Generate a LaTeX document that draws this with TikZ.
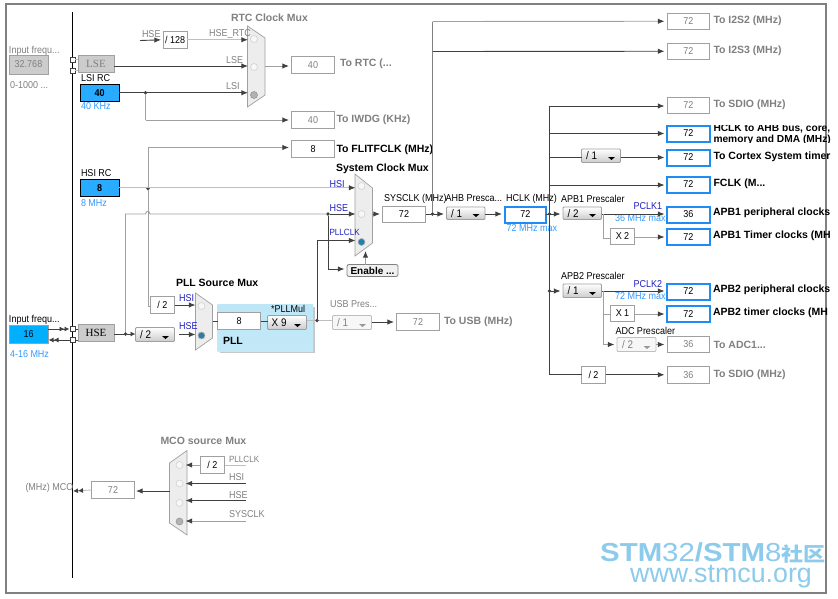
\documentclass[tikz,border=0pt]{standalone}
\usepackage{fontspec}
\usepackage{graphicx}
\setmainfont{Liberation Sans}[FakeStretch=0.9]
\newfontfamily\lsf{Liberation Sans}
\newfontfamily\lserif{Liberation Serif}
\newfontfamily\cjkf{Noto Sans CJK SC}
\usetikzlibrary{arrows.meta}
\definecolor{dk}{HTML}{404040}
\definecolor{mg}{HTML}{A0A0A0}
\definecolor{lb}{HTML}{3399FF}
\definecolor{pb}{HTML}{2020C0}
\definecolor{ac}{HTML}{1E8CF0}
\definecolor{wm}{HTML}{8CCBEC}
\definecolor{gtxt}{HTML}{808080}
\definecolor{srcf}{HTML}{29ABFF}
\definecolor{oscf}{HTML}{00B0FF}
\definecolor{pla}{HTML}{BDE6F6}
\definecolor{plb}{HTML}{EAF7FC}
\definecolor{plc}{HTML}{C3E9F9}
\definecolor{radb}{HTML}{2080B0}
\newcommand\bx[7]{\node[#2,minimum width={(#5-#3)*1pt},minimum height={(#6-#4)*1pt}] (#1) at ({(#3+#5)/2},{(#4+#6)/2}) {#7};}
\newcommand\lbl[5]{\node[anchor=west,inner sep=0,outer sep=0,font=\fontsize{10}{10}\selectfont,#2] (#1) at (#3,#4) {#5};}
\newcommand\ddtext[6]{\node[#2,minimum width={(#5-#3)*1pt},minimum height={(#6-#4)*1pt}] (#1) at ({(#3+#5)/2},{(#4+#6)/2}) {};}
\newcommand\ddarrow[3]{\fill[#3] ({#1-12.5},{#2-5.5}) -- ({#1-5.5},{#2-5.5}) -- ({#1-9},{#2-2.5}) -- cycle;}
\tikzset{
  bare/.style={rectangle,inner sep=0,outer sep=0},
  val/.style={bare,draw=mg,line width=.8pt,fill=white,text=black,font=\fontsize{10}{10}\selectfont},
  dis/.style={val,text=gtxt},
  act/.style={val,draw=ac,line width=2pt},
  src/.style={val,draw=black,line width=1pt,fill=srcf,font=\fontsize{10}{10}\bfseries\selectfont},
  gbox/.style={bare,draw=mg,line width=.8pt,fill=black!20,font=\fontsize{11}{11}\lserif\selectfont},
  ddb/.style={bare,draw=mg,line width=.8pt,rounded corners=1pt,top color=white,bottom color=black!20},
  ddd/.style={bare,draw=black!25,line width=.8pt,rounded corners=1pt,fill=black!3},
  muxs/.style={draw=mg,line width=.7pt,left color=black!7,middle color=white,right color=black!7},
  rad/.style={circle,inner sep=0,outer sep=0,minimum size=7pt,draw=black!18,fill=black!3,line width=.6pt},
  radon/.style={rad,draw=black!30,fill=radb},
  radoff/.style={rad,draw=black!40,fill=black!30},
  jd/.style={circle,inner sep=0,outer sep=0,minimum size=3.6pt,fill=dk},
  sq/.style={rectangle,inner sep=0,outer sep=0,minimum size=5pt,draw=dk,fill=white,line width=.6pt},
  blk/.style={draw=dk,line width=.9pt},
  gry/.style={draw=mg,line width=.9pt},
  lgt/.style={draw=black!25,line width=.9pt},
  arr/.style={-{Latex[length=6.6pt,width=5.4pt,color=dk]},shorten >=2.5pt},
  t/.style={text=black},
  tg/.style={text=gtxt},
  tb/.style={text=pb,font=\fontsize{10}{10}\selectfont},
  tl/.style={text=lb,font=\fontsize{10}{10}\selectfont},
  hd/.style={text=black,font=\fontsize{10.5}{10.5}\lsf\bfseries\selectfont},
  hg/.style={text=gtxt,font=\fontsize{10.5}{10.5}\lsf\bfseries\selectfont},
}
\begin{document}
\begin{tikzpicture}[x=1pt,y=-1pt]
\useasboundingbox (0,0) rectangle (838,598);
\fill[white] (0,0) rectangle (838,598);
\begin{scope}
\clip (0,0) rectangle (830.5,598);
\draw[draw=black!50,line width=2pt] (5.5,3.5) rectangle (826,593);
\draw[black,line width=1pt] (72.5,12) -- (72.5,578);

% --- PLL panel
\fill[black!22] (220,307) rectangle (314.5,352.5);
\path[top color=pla,middle color=plb,bottom color=plc] (217.5,304) rectangle (313,351);

% --- left column
\lbl{t1}{tg}{9}{51}{Input frequ...}
\bx{lsebx}{dis,fill=black!20}{9}{55}{48}{74}{32.768}
\lbl{t2}{tg}{10}{85}{0-1000 ...}
\bx{lse}{gbox,text=gtxt}{78}{55}{114}{72}{LSE}
\node[sq] (s1) at (72.5,59.5) {};
\node[sq] (s2) at (72.5,70.5) {};
\lbl{t3}{t}{81}{78.5}{LSI RC}
\bx{lsi}{src}{80.5}{84.5}{119}{101}{40}
\lbl{t4}{tl}{81}{106.5}{40 KHz}
\lbl{t5}{t}{81}{173.5}{HSI RC}
\bx{hsi}{src}{80.5}{179.5}{119}{196}{8}
\lbl{t6}{tl}{81}{203.5}{8 MHz}
\lbl{t7}{t}{9}{320}{Input frequ...}
\bx{osc}{val,fill=oscf,draw=mg}{9.5}{325}{48}{343}{16}
\lbl{t8}{tl}{10}{354.5}{4-16 MHz}
\bx{hse}{gbox,text=black}{78}{324.5}{114}{341.5}{HSE}
\node[sq] (s3) at (72.5,329) {};
\node[sq] (s4) at (72.5,340) {};

% --- RTC
\lbl{t9}{hg}{231}{17.5}{RTC Clock Mux}
\lbl{t10}{tg}{142}{34}{HSE}
\bx{d128}{val}{163.5}{31.5}{187}{48}{/ 128}
\lbl{t12}{tg}{226}{60.5}{LSE}
\lbl{t13}{tg}{226}{86}{LSI}
\draw[muxs] (247.5,26) -- (265,38) -- (265,95) -- (247.5,107) -- cycle;
\lbl{t11}{tg}{209}{34}{HSE\_RTC}
\node[rad] (rtcA) at (254,39) {};
\node[rad] (rtcB) at (254,67) {};
\node[radoff] (rtcC) at (254,95) {};
\bx{brtc}{dis}{291.5}{56.5}{334.5}{73.5}{40}
\lbl{t14}{hg}{340}{63.5}{To RTC (...}
\bx{biw}{dis}{291.5}{111.5}{334.5}{128.5}{40}
\lbl{t15}{hg}{336.5}{119.5}{To IWDG (KHz)}
\bx{bfl}{val}{291.5}{140.5}{334.5}{157.5}{8}
\lbl{t16}{hd}{336.5}{149.5}{To FLITFCLK (MHz)}
\coordinate (hse0) at (140,40.5);
\draw[blk,arr] (hse0) -- (d128.west);
\draw[lgt,arr] (d128.east) -- (rtcA.west |- d128.east);
\draw[blk,arr] (lse.east |- 0,66) -- (rtcB.west |- 0,66);
\draw[blk,arr] (lsi.east) -- (rtcC.west |- lsi.east);
\node[jd] (j1) at (145.5,92.7) {};
\draw[gry] (j1) -- (145.5,120);
\draw[gry,arr] (145.5,120) -- (biw.west |- 0,120);
\draw[gry,arr] (265,66) -- (brtc.west |- 0,66);

% --- system clock mux
\lbl{t17}{hd}{336}{169}{System Clock Mux}
\draw[muxs] (355,174) -- (372.5,188) -- (372.5,243) -- (355,256) -- cycle;
\lbl{t18}{tb}{329.5}{184}{HSI}
\lbl{t19}{tb}{329.5}{208.5}{HSE}
\lbl{t20}{tb}{329.5}{232.5}{\fontsize{9}{9}\selectfont PLLCLK}
\node[rad] (sysA) at (361.5,186) {};
\node[rad] (sysB) at (361.5,214) {};
\node[radon] (sysC) at (361.5,242) {};
\bx{en}{val,rounded corners=2pt,draw=gtxt,fill=black!6,font=\fontsize{10}{10}\lsf\bfseries\selectfont}{347}{264.5}{398}{276.5}{Enable ...}
\node[jd] (j2) at (148,188.5) {};
\draw[lgt,arr] (hsi.east) -- (sysA.west |- hsi.east);
\draw[gry] (j2) -- (148,147.5);
\draw[gry,arr] (148,147.5) -- (bfl.west |- 0,147.5);
\coordinate (hsehop) at (125.5,214);
\node[jd] (j3) at (328,214) {};
\node[jd] (j4) at (125.5,334) {};
\draw[gry] (j4) -- (hsehop) -- (145.5,214) .. controls (146,210.5) and (149.5,210.5) .. (150,214) -- (j3);
\draw[blk,arr] (j3) -- (sysB.west);
\bx{d2a}{val}{150.5}{296.5}{174.5}{313.5}{/ 2}
\draw[gry] (j2) -- (148,306.5) -- (d2a.west |- 0,306.5);

% --- PLL
\lbl{t21}{hd}{176}{282.5}{PLL Source Mux}
\draw[muxs] (195.5,293) -- (212.5,305) -- (212.5,338) -- (195.5,350) -- cycle;
\lbl{t22}{tb}{179}{298.5}{HSI}
\lbl{t23}{tb}{179}{326.5}{HSE}
\node[rad] (pA) at (201.5,306) {};
\node[radon] (pB) at (201.5,335.5) {};
\ddtext{d2b}{ddb}{135.5}{327.5}{174.5}{341.5}
\node[anchor=west,inner sep=0,font=\fontsize{11}{11}\selectfont] (d2bt) at (140,334.5) {/ 2};
\ddarrow{174.5}{341.5}{black}
\coordinate (lpb) at (179,334.5);
\draw[blk] (hse.east |- j4) -- (j4);
\draw[blk,-{Latex[length=5pt,width=5pt,color=dk]}] (j4) -- (d2b.west |- j4);
\draw[blk,arr] (lpb) -- (pB.west |- lpb);
\draw[blk,arr] (d2a.east) -- (pA.west |- d2a.east);
\lbl{t24}{t}{271}{308.5}{*PLLMul}
\bx{pl8}{val}{217.5}{312.5}{260.5}{329.5}{8}
\ddtext{plx}{ddb}{267.5}{315.5}{306.5}{329.5}
\node[anchor=west,inner sep=0,font=\fontsize{11}{11}\selectfont] (plxt) at (271.5,322.5) {X 9};
\ddarrow{306.5}{329.5}{black}
\lbl{t25}{hd}{223}{340.5}{PLL}
\draw[blk] (212.5,321) -- (pl8.west |- 0,321);
\draw[blk] (pl8.east |- 0,321) -- (plx.west |- 0,321);
\node[jd] (j5) at (317,320.5) {};
\draw[lgt] (plx.east |- j5) -- (j5);
\coordinate (pbend) at (317,240.5);
\draw[blk] (j5) -- (pbend);
\draw[blk,arr] (pbend) -- (sysC.west |- pbend);
\draw[blk] (j3) -- (328,269);
\draw[blk,arr] (328,269) -- (en.west |- 0,269);
\draw[gry,arr] (en.north -| 365.5,0) -- (365.5,248.5);

% --- USB
\lbl{t26}{tg}{330}{304.5}{USB Pres...}
\ddtext{usbd}{ddd}{332.5}{315.5}{371.5}{329.5}
\node[anchor=west,inner sep=0,font=\fontsize{11}{11}\selectfont,text=gtxt] (usbt) at (337,322.5) {/ 1};
\ddarrow{371.5}{329.5}{black!40}
\bx{usb}{dis}{396.5}{313.5}{439.5}{330.5}{72}
\lbl{t27}{hg}{444}{322}{To USB (MHz)}
\draw[lgt] (j5) -- (usbd.west |- j5);
\draw[blk,arr] (usbd.east |- usb.west) -- (usb.west);

% --- left arrows
\draw[blk,-{Latex[length=5pt,width=5pt,color=dk]Latex[length=5pt,width=5pt,color=dk]},shorten >=.5pt] (osc.east |- s3) -- (s3.west);
\draw[blk,-{Latex[length=5pt,width=5pt,color=dk]Latex[length=5pt,width=5pt,color=dk]},shorten >=.5pt] (s4.west) -- (osc.east |- s4);
\draw[blk] (s3.east) -- (hse.west |- s3);
\draw[blk] (s4.east) -- (hse.west |- s4);
\draw[lgt] (s1.east) -- (lse.west |- s1);
\draw[lgt] (s2.east) -- (lse.west |- s2);

% --- SYSCLK / AHB / HCLK
\lbl{t28}{t}{384}{198.5}{SYSCLK (MHz)}
\bx{sys}{val}{382.5}{206.5}{425.5}{222.5}{72}
\lbl{t29}{t}{445.5}{198.5}{AHB Presca...}
\ddtext{ahb}{ddb}{446.5}{207}{485}{219.5}
\node[anchor=west,inner sep=0,font=\fontsize{11}{11}\selectfont] (ahbt) at (451,213.5) {/ 1};
\ddarrow{485}{219.5}{black}
\lbl{t30}{t}{506}{198.5}{HCLK (MHz)}
\bx{hclk}{act}{504.5}{206.5}{546}{222.5}{72}
\lbl{t31}{tl}{506.5}{228}{72 MHz max}
\draw[blk,arr] (372.5,214) -- (sys.west |- 0,214);
\node[jd] (j6) at (432.5,214) {};
\draw[blk] (sys.east |- j6) -- (j6);
\draw[blk,arr] (j6) -- (ahb.west |- j6);
\draw[blk,arr] (ahb.east |- 0,214) -- (hclk.west |- 0,214);

% --- I2S
\bx{i2}{dis}{667}{13}{709.5}{29.5}{72}
\lbl{t32}{hg}{713.5}{20.5}{To I2S2 (MHz)}
\bx{i3}{dis}{667}{43}{709.5}{59.5}{72}
\lbl{t33}{hg}{713.5}{50.5}{To I2S3 (MHz)}
\draw[gry,arr] (432.5,21.5) -- (i2.west);
\draw[blk,arr] (432.5,51.5) -- (i3.west);
\draw[draw=gtxt,line width=.9pt] (j6) -- (432.5,21.5);

% --- HCLK tree
\bx{sd}{dis}{667}{97}{709.5}{113.5}{72}
\lbl{t34}{hg}{713.5}{104.5}{To SDIO (MHz)}
\bx{ah}{act}{667}{125.5}{709.5}{141.5}{72}
\begin{scope}
\clip (711,125) rectangle (832,142);
\lbl{t35}{text=black,font=\fontsize{10.2}{10.2}\lsf\bfseries\selectfont}{713.5}{128.5}{HCLK to AHB bus, core,}
\lbl{t36}{text=black,font=\fontsize{10.2}{10.2}\lsf\bfseries\selectfont}{713.5}{139.5}{memory and DMA (MHz)}
\end{scope}
\bx{cx}{act}{667}{149.5}{709.5}{165.5}{72}
\lbl{t37}{hd}{713.5}{156.5}{To Cortex System timer}
\bx{fc}{act}{667}{176.5}{709.5}{192.5}{72}
\lbl{t38}{hd}{713.5}{183.5}{FCLK (M...}
\ddtext{cxd}{ddb}{581.5}{149}{620.5}{162.5}
\node[anchor=west,inner sep=0,font=\fontsize{11}{11}\selectfont] (cxdt) at (586,156) {/ 1};
\ddarrow{620.5}{162.5}{black}
\coordinate (bt) at (549.5,106);
\coordinate (bb) at (549.5,374.5);
\draw[blk] (bt) -- (bb);
\draw[blk,arr] (bt) -- (sd.west |- bt);
\draw[blk,arr] (549.5,133.5) -- (ah.west |- 0,133.5);
\draw[blk] (549.5,157.5) -- (cxd.west |- 0,157.5);
\draw[blk,arr] (cxd.east |- cx.west) -- (cx.west);
\draw[blk,arr] (549.5,185) -- (fc.west |- 0,185);

% --- APB1
\lbl{t39}{t}{561}{198.5}{APB1 Prescaler}
\ddtext{ap1}{ddb}{563}{207}{601.5}{219.5}
\node[anchor=west,inner sep=0,font=\fontsize{11}{11}\selectfont] (ap1t) at (567.5,213.5) {/ 2};
\ddarrow{601.5}{219.5}{black}
\lbl{t40}{tb}{633.5}{206}{PCLK1}
\lbl{t41}{tl}{615}{218}{36 MHz max}
\bx{p1}{act}{667}{206.5}{709.5}{222.5}{36}
\lbl{t42}{hd}{713}{212.5}{APB1 peripheral clocks}
\bx{x2}{val}{610.5}{228.5}{634.5}{244.5}{X 2}
\bx{t1b}{act}{667}{229}{709.5}{245}{72}
\lbl{t43}{hd}{713}{236}{APB1 Timer clocks (MH}
\node[jd] (j7) at (549.5,214) {};
\draw[blk,arr] (hclk.east |- j7) -- (ap1.west |- j7);
\draw[blk,arr] (ap1.east |- 0,214) -- (p1.west |- 0,214);
\draw[gry] (603.5,214) -- (603.5,238) -- (x2.west |- 0,238);
\draw[gry,arr] (x2.east |- t1b.west) -- (t1b.west);

% --- APB2
\lbl{t44}{t}{561}{275.5}{APB2 Prescaler}
\ddtext{ap2}{ddb}{563}{284}{601.5}{297.5}
\node[anchor=west,inner sep=0,font=\fontsize{11}{11}\selectfont] (ap2t) at (567.5,291) {/ 1};
\ddarrow{601.5}{297.5}{black}
\lbl{t45}{tb}{633.5}{284}{PCLK2}
\lbl{t46}{tl}{615}{296}{72 MHz max}
\bx{p2}{act}{667}{283.5}{709.5}{299.5}{72}
\lbl{t47}{hd}{713}{289.5}{APB2 peripheral clocks}
\bx{x1}{val}{610.5}{305.5}{634.5}{321.5}{X 1}
\bx{t2b}{act}{667}{306}{709.5}{322}{72}
\lbl{t48}{hd}{713}{312.5}{APB2 timer clocks (MH}
\lbl{t49}{t}{615.5}{330.5}{ADC Prescaler}
\ddtext{adc}{ddd}{617}{337.5}{656}{351.5}
\node[anchor=west,inner sep=0,font=\fontsize{11}{11}\selectfont,text=gtxt] (adct) at (622,344.5) {/ 2};
\ddarrow{656}{351.5}{black!40}
\bx{ad}{dis}{667}{336.5}{709.5}{352.5}{36}
\lbl{t50}{hg}{713.5}{344.5}{To ADC1...}
\node[jd] (j8) at (549.5,291) {};
\draw[blk,arr] (j8) -- (ap2.west |- j8);
\draw[blk,arr] (ap2.east |- j8) -- (p2.west |- j8);
\draw[gry] (603.5,291) -- (603.5,344.5);
\draw[gry] (603.5,314) -- (x1.west |- 0,314);
\draw[gry,arr] (603.5,344.5) -- (adc.west |- 0,344.5);
\draw[gry,arr] (x1.east |- t2b.west) -- (t2b.west);
\draw[gry,arr] (adc.east |- ad.west) -- (ad.west);
\bx{d2c}{val}{581.5}{366.5}{605.5}{383}{/ 2}
\bx{sd2}{dis}{667}{366.5}{709.5}{383}{36}
\lbl{t51}{hg}{713.5}{374.5}{To SDIO (MHz)}
\draw[blk] (bb) -- (d2c.west |- bb);
\draw[blk,arr] (d2c.east |- sd2.west) -- (sd2.west);

% --- MCO
\lbl{t52}{hg}{160.5}{441}{MCO source Mux}
\draw[muxs] (169.5,463) -- (187,450.5) -- (187,535) -- (169.5,523) -- cycle;
\node[rad] (mA) at (179.5,465) {};
\node[rad] (mB) at (179.5,483.5) {};
\node[rad] (mC) at (179.5,503) {};
\node[radoff] (mD) at (179.5,521.5) {};
\bx{d2d}{val}{200.5}{456.5}{224.5}{473.5}{/ 2}
\lbl{t53}{tg}{229}{459.5}{\fontsize{9}{9}\selectfont PLLCLK}
\lbl{t54}{tg}{229}{477}{HSI}
\lbl{t55}{tg}{229}{495}{HSE}
\lbl{t56}{tg}{229}{514}{SYSCLK}
\coordinate (m1) at (245.5,465);
\coordinate (m2) at (245.5,483.5);
\coordinate (m3) at (245.5,500.5);
\coordinate (m4) at (245.5,521);
\draw[lgt] (m1) -- (d2d.east |- m1);
\draw[gry,arr] (d2d.west |- m1) -- (mA.east |- m1);
\draw[blk,arr] (m2) -- (mB.east |- m2);
\draw[blk,arr] (m3) -- (mC.east |- m3);
\draw[gry,arr] (m4) -- (mD.east |- m4);
\bx{mco}{dis}{91.5}{481.5}{134.5}{498.5}{72}
\lbl{t57}{tg}{25.5}{488}{(MHz) MCO}
\draw[blk,shorten >=1.5pt,-{Latex[length=6.6pt,width=5.4pt,color=dk]}] (169.5,491) -- (mco.east |- 0,491);
\coordinate (mout) at (73,491);
\draw[lgt,-{Latex[length=5pt,width=5pt,color=dk]Latex[length=5pt,width=5pt,color=dk]}] (mco.west) -- (mout);

% --- watermark
\node[anchor=base west,inner sep=0,text=wm,font=\fontsize{26}{26}\lsf\selectfont] (w1) at (600,561.7) {\scalebox{1.13}[1]{\textbf{STM}32\textbf{/STM}8{\cjkf\bfseries\fontsize{19.5}{19.5}\selectfont 社区}}};
\node[anchor=base west,inner sep=0,text=wm,font=\fontsize{26.8}{27}\lsf\selectfont] (w2) at (630,582.5) {www.stmcu.org};
\end{scope}
\end{tikzpicture}
\end{document}
